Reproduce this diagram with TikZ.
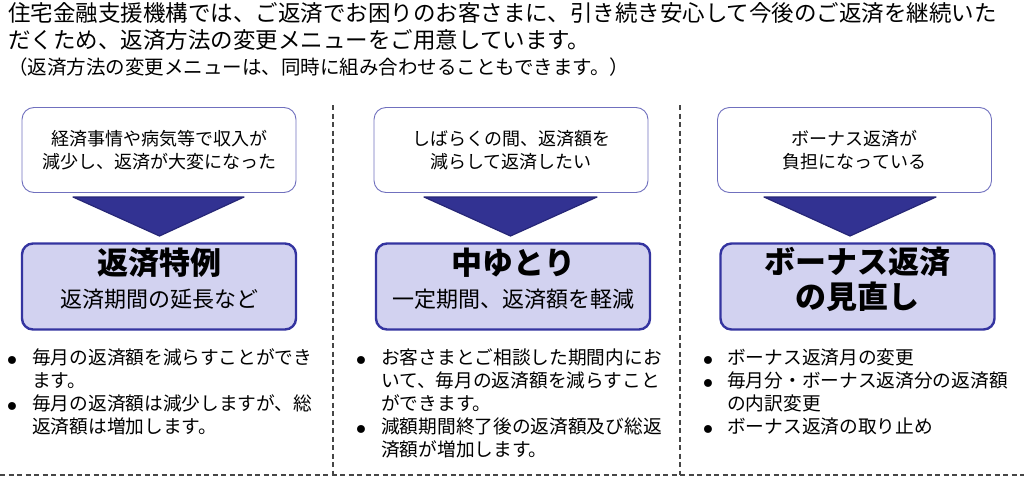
\documentclass[tikz,border=0pt]{standalone}
\usepackage{fontspec}
\setmainfont{Noto Sans CJK JP}
\newfontfamily\bulfont{DejaVu Sans}
\definecolor{topborder}{RGB}{112,112,190}
\definecolor{arrowfill}{RGB}{50,50,146}
\definecolor{arrowline}{RGB}{38,38,118}
\definecolor{botfill}{RGB}{210,210,240}
\definecolor{botborder}{RGB}{52,52,160}
\definecolor{dashcol}{RGB}{70,70,70}
\begin{document}
\begin{tikzpicture}[x=1pt,y=-1pt,
  txt/.style={inner sep=0pt, text height=0.88em, text depth=0.12em, anchor=west},
  headA/.style={txt, font=\fontsize{22.5}{27}\selectfont},
  headB/.style={txt, font=\fontsize{19.5}{24}\selectfont},
  topbox/.style={draw=topborder, line width=0.9pt, fill=white, rounded corners=12pt,
    minimum width=274pt, minimum height=85pt, align=center, inner sep=0pt,
    font=\fontsize{18}{23.5}\selectfont},
  botbox/.style={draw=botborder, line width=2.4pt, fill=botfill, rounded corners=11pt,
    minimum width=274pt, minimum height=86pt, inner sep=0pt},
  title/.style={inner sep=0pt, text height=0.88em, text depth=0.12em, font=\fontsize{31}{34}\selectfont\bfseries},
  subtitle/.style={inner sep=0pt, text height=0.88em, text depth=0.12em, font=\fontsize{22}{25}\selectfont},
  item/.style={txt, font=\fontsize{18.7}{23}\selectfont},
  bul/.style={inner sep=0pt, anchor=base, text height=12pt, text depth=0pt, font=\bulfont\fontsize{27}{28}\selectfont, yshift=-9pt},
  sep/.style={draw=dashcol, line width=1.3pt, dash pattern=on 5pt off 3.5pt},
  arrowshape/.style={fill=arrowfill, draw=arrowline, line width=1.2pt, line join=round}
]
\useasboundingbox (0,0) rectangle (1024,479);

% header
\node[headA] (h1) at (8,18) {住宅金融支援機構では、ご返済でお困りのお客さまに、引き続き安心して今後のご返済を継続いた};
\node[headA] (h2) at (8,45) {だくため、返済方法の変更メニューをご用意しています。};
\node[headB] (h3) at (8,71) {（返済方法の変更メニューは、同時に組み合わせることもできます。）};

% separators
\coordinate (v1t) at (333,105); \coordinate (v1b) at (333,475);
\coordinate (v2t) at (680,105); \coordinate (v2b) at (680,475);
\coordinate (hl) at (0,475); \coordinate (hr) at (1024,475);
\draw[sep] (v1t) -- (v1b);
\draw[sep] (v2t) -- (v2b);
\draw[sep] (hl) -- (hr);

% column 1
\node[topbox] (q1) at (159,150) {経済事情や病気等で収入が\\減少し、返済が大変になった};
\draw[arrowshape] (73,197) -- (244,197) -- (159.5,236) -- cycle;
\node[botbox] (a1) at (159,286.5) {};
\node[title] (t1) at (159,271) {返済特例};
\node[subtitle] (s1) at (159,304) {返済期間の延長など};

% column 2
\node[topbox] (q2) at (511,150) {しばらくの間、返済額を\\減らして返済したい};
\draw[arrowshape] (424,197) -- (597,197) -- (510.5,236) -- cycle;
\node[botbox] (a2) at (513,286.5) {};
\node[title] (t2) at (513,271) {中ゆとり};
\node[subtitle] (s2) at (513,304) {一定期間、返済額を軽減};

% column 3
\node[topbox] (q3) at (854.5,150) {ボーナス返済が\\負担になっている};
\draw[arrowshape] (764,197) -- (936,197) -- (850,236) -- cycle;
\node[botbox] (a3) at (857.5,286.5) {};
\node[title] (t3a) at (857.5,270) {ボーナス返済};
\node[title] (t3b) at (857.5,305) {の見直し};

% bullets column 1
\node[bul] (b11) at (12,361) {•};
\node[item] (l11) at (32,361) {毎月の返済額を減らすことができ};
\node[item] (l12) at (32,384) {ます。};
\node[bul] (b12) at (12,407) {•};
\node[item] (l13) at (32,407) {毎月の返済額は減少しますが、総};
\node[item] (l14) at (32,430) {返済額は増加します。};

% bullets column 2
\node[bul] (b21) at (361,361) {•};
\node[item] (l21) at (381,361) {お客さまとご相談した期間内にお};
\node[item] (l22) at (381,384) {いて、毎月の返済額を減らすこと};
\node[item] (l23) at (381,407) {ができます。};
\node[bul] (b22) at (361,430) {•};
\node[item] (l24) at (381,430) {減額期間終了後の返済額及び総返};
\node[item] (l25) at (381,453) {済額が増加します。};

% bullets column 3
\node[bul] (b31) at (708,361) {•};
\node[item] (l31) at (727,361) {ボーナス返済月の変更};
\node[bul] (b32) at (708,384) {•};
\node[item] (l32) at (727,384) {毎月分・ボーナス返済分の返済額};
\node[item] (l33) at (727,407) {の内訳変更};
\node[bul] (b33) at (708,430) {•};
\node[item] (l34) at (727,430) {ボーナス返済の取り止め};
\end{tikzpicture}
\end{document}
